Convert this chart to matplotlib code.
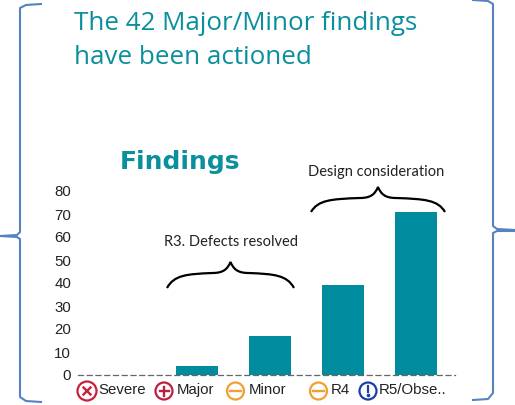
import matplotlib
matplotlib.use("Agg")
import matplotlib.pyplot as plt
import matplotlib.patches as mpatches
from matplotlib.path import Path

W, H = 515, 405
TEAL = "#008c9e"
TITLE_TEAL = "#0a8f9c"
BRACKET_BLUE = "#5583c2"

categories = ["Severe", "Major", "Minor", "R4", "R5/Obse.."]
values = [0, 4, 17, 39, 71]
y_ticks = [0, 10, 20, 30, 40, 50, 60, 70, 80]
headline = ["The 42 Major/Minor findings", "have been actioned"]
chart_title = "Findings"
note_left = "R3. Defects resolved"
note_right = "Design consideration"


def px_axes(fig, left, top, right, bottom):
    return fig.add_axes([left / W, 1 - bottom / H, (right - left) / W, (bottom - top) / H])


def draw_brace(ax, x0, x1, y_tip, y_end):
    # curly brace opening downwards, tip in the middle
    mid = (x0 + x1) / 2
    y_mid = y_tip + 11
    verts = [
        (x0, y_end), (x0 + 7, y_mid + 2), (x0 + 20, y_mid + 1), (mid - 18, y_mid),
        (mid - 7, y_mid), (mid - 3, y_mid - 4), (mid, y_tip),
        (mid + 3, y_mid - 4), (mid + 7, y_mid), (mid + 18, y_mid),
        (x1 - 20, y_mid + 1), (x1 - 7, y_mid + 2), (x1, y_end),
    ]
    codes = [Path.MOVETO] + [Path.CURVE4] * 12
    ax.add_patch(mpatches.PathPatch(Path(verts, codes), fill=False, ec="black", lw=1.6))


def draw_icon(ax, cx, cy, r, color, kind):
    ax.add_patch(mpatches.Circle((cx, cy), r, fill=False, ec=color, lw=1.6))
    d = 3.5
    if kind == "x":
        ax.plot([cx - d, cx + d], [cy - d, cy + d], color=color, lw=1.7)
        ax.plot([cx - d, cx + d], [cy + d, cy - d], color=color, lw=1.7)
    elif kind == "+":
        ax.plot([cx - d - 1, cx + d + 1], [cy, cy], color=color, lw=1.7)
        ax.plot([cx, cx], [cy - d - 1, cy + d + 1], color=color, lw=1.7)
    elif kind == "-":
        ax.plot([cx - d - 2, cx + d + 2], [cy, cy], color=color, lw=1.7)
    else:
        ax.plot([cx, cx], [cy - 5, cy + 1], color=color, lw=1.6)
        ax.plot([cx], [cy + 4], marker="o", ms=1.6, color=color)


fig = plt.figure(figsize=(W / 100, H / 100), dpi=100)

# bar chart
ax = px_axes(fig, 78, 191, 455, 375)
ax.bar(range(len(values)), values, width=0.58, color=TEAL)
ax.set_xlim(-0.63, 4.53)
ax.set_ylim(0, 80)
ax.set_yticks(y_ticks)
ax.set_xticks([])
ax.tick_params(axis="y", length=0, pad=5, labelsize=10.8, labelcolor="#222222")
for label in ax.get_yticklabels():
    label.set_family("Liberation Sans")
for side in ("top", "right", "left"):
    ax.spines[side].set_visible(False)
ax.spines["bottom"].set_linestyle((0, (4, 3)))
ax.spines["bottom"].set_color("#666666")
ax.spines["bottom"].set_linewidth(0.9)

# everything else in pixel coordinates
ov = fig.add_axes([0, 0, 1, 1])
ov.set_xlim(0, W)
ov.set_ylim(H, 0)
ov.axis("off")
ov.patch.set_alpha(0)

# big side brackets
ov.plot([41, 26, 20, 20, 17, 0], [4, 5, 8, 232, 235, 236], color=BRACKET_BLUE, lw=1.5)
ov.plot([0, 17, 20, 20, 26, 41], [236, 237, 239, 397, 401, 402], color=BRACKET_BLUE, lw=1.5)
ov.plot([473, 488, 493, 493, 497, 515], [0, 1, 4, 226, 229, 230], color=BRACKET_BLUE, lw=1.5)
ov.plot([515, 497, 493, 493, 488, 473], [231, 231, 233, 393, 399, 400], color=BRACKET_BLUE, lw=1.5)

ov.text(74, 24, headline[0], fontsize=18.7, color=TITLE_TEAL, family="Open Sans", va="center")
ov.text(74, 58, headline[1], fontsize=18.7, color=TITLE_TEAL, family="Open Sans", va="center")
ov.text(120, 162, chart_title, fontsize=18, color=TITLE_TEAL, family="DejaVu Sans",
        weight="bold", va="center")
ov.text(231, 242, note_left, fontsize=10.5, color="#222222", family="Lato", ha="center", va="center")
ov.text(376, 172, note_right, fontsize=10.5, color="#222222", family="Lato", ha="center", va="center")

draw_brace(ov, 167, 294, 262, 288)
draw_brace(ov, 311, 445, 187, 212)

# category labels with status icons
icon_x = [87, 164, 235.5, 318.5, 368]
icon_r = [9.5, 8.5, 8.5, 8.5, 8.5]
label_x = [98, 176.5, 249, 331, 379]
icon_color = ["#c8203c", "#b8213f", "#f0a030", "#f0a030", "#1a3fa8"]
icon_kind = ["x", "+", "-", "-", "!"]
for name, ix, r, lx, col, kind in zip(categories, icon_x, icon_r, label_x, icon_color, icon_kind):
    draw_icon(ov, ix, 391, r, col, kind)
    ov.text(lx, 390, name, fontsize=10.8, family="Liberation Sans", color="#222222", va="center")

fig.savefig("out.png", dpi=100)
